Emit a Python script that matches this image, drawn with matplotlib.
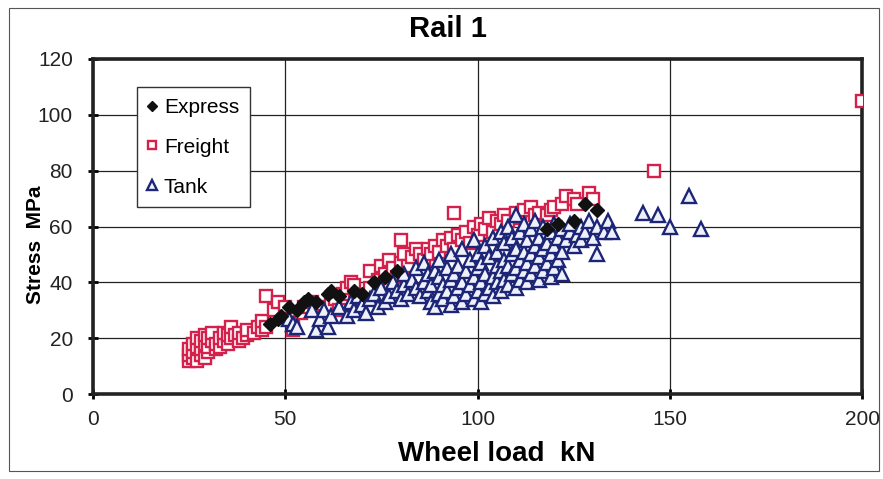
import numpy as np
import matplotlib.pyplot as plt
from matplotlib.patches import Rectangle

plt.rcParams['font.family'] = ['Liberation Sans', 'DejaVu Sans']

# wheel load (kN) / stress (MPa) per vehicle type
express_x = [46, 48, 49, 51, 53, 55, 56, 58, 61, 62, 64, 68, 70, 73, 76, 79, 118, 121, 125, 128, 131]
express_y = [25, 27, 28, 31, 30, 33, 34, 33, 36, 37, 35, 37, 36, 40, 42, 44, 59, 61, 62, 68, 66]

freight_x = [25, 25, 25, 26, 26, 26, 27, 27, 27, 28, 28, 28, 29, 29, 29, 30, 30, 30, 31, 31,
             32, 32, 33, 33, 34, 34, 35, 35, 36, 36, 37, 38, 38, 39, 40, 40, 42, 43, 44, 44,
             45, 45, 47, 48, 50, 52, 52, 54, 55, 57, 59, 60, 62, 63, 64, 65, 66, 67, 68, 70,
             72, 72, 74, 75, 76, 77, 78, 79, 80, 80, 81, 82, 83, 84, 85, 86, 87, 88, 89, 90,
             91, 92, 93, 94, 94, 95, 96, 97, 98, 99, 100, 101, 102, 103, 104, 105, 106, 107, 108, 110,
             111, 112, 114, 115, 116, 118, 119, 120, 122, 123, 125, 126, 129, 130, 146, 200]
freight_y = [12, 14, 16, 13, 15, 18, 12, 17, 20, 14, 16, 19, 13, 18, 21, 15, 17, 20, 19, 22,
             16, 18, 17, 20, 19, 22, 18, 21, 20, 24, 21, 19, 22, 20, 21, 23, 22, 24, 23, 26,
             24, 35, 30, 33, 31, 23, 27, 29, 31, 33, 31, 28, 32, 34, 30, 36, 38, 40, 39, 34,
             38, 44, 41, 46, 43, 48, 45, 42, 55, 47, 50, 46, 49, 52, 50, 48, 52, 50, 53, 51,
             55, 53, 56, 65, 52, 57, 55, 58, 54, 60, 57, 61, 59, 63, 58, 62, 61, 64, 62, 65,
             63, 66, 67, 64, 65, 64, 66, 67, 68, 71, 70, 68, 72, 70, 80, 105]

tank_x = [51, 52, 53, 57, 58, 59, 60, 61, 62,
          64, 66, 67, 68, 69, 70, 71, 72, 73, 74, 75, 76, 77, 78, 79, 80,
          81, 81, 82, 83, 84, 84, 85, 86, 86, 87, 87, 88, 88, 89, 89, 90, 90, 90,
          91, 91, 92, 92, 93, 93, 93, 94, 94, 95, 95, 96, 96, 96, 97, 97, 98, 98,
          99, 99, 99, 100, 100, 100,
          101, 101, 101, 102, 102, 102, 103, 103, 104, 104, 104, 105, 105, 105,
          106, 106, 106, 107, 107, 107, 108, 108, 108, 109, 109, 109, 110, 110, 110, 110,
          111, 111, 111, 112, 112, 112, 113, 113, 113, 114, 114, 114, 115, 115, 115,
          116, 116, 116, 117, 117, 117, 118, 118, 119, 119, 119, 120, 120, 120,
          121, 121, 122, 122, 122,
          123, 124, 124, 125, 126, 127, 127, 128, 129, 130, 131, 131, 133, 134, 135,
          143, 147, 150, 155, 158]
tank_y = [27, 25, 24, 30, 23, 27, 30, 24, 28,
          31, 28, 33, 30, 35, 32, 29, 34, 36, 31, 38, 33, 35, 40, 37, 34,
          39, 43, 36, 41, 38, 45, 35, 40, 47, 37, 43, 33, 39, 44, 31, 36, 42, 48,
          34, 39, 45, 37, 32, 41, 50, 35, 43, 38, 46, 33, 40, 52, 36, 44, 39, 48,
          34, 42, 55, 37, 45, 50,
          33, 40, 47, 36, 43, 53, 38, 49, 35, 42, 56, 40, 46, 51,
          37, 44, 58, 41, 48, 54, 39, 46, 60, 43, 50, 56, 38, 45, 52, 64,
          41, 48, 58, 44, 51, 61, 40, 47, 55, 43, 50, 59, 46, 53, 62,
          41, 49, 56, 44, 52, 60, 47, 54, 42, 50, 58, 45, 53, 61,
          48, 56, 43, 51, 59,
          55, 58, 61, 53, 57, 60, 55, 58, 62, 56, 50, 60, 58, 62, 58,
          65, 64, 60, 71, 59]

red = '#d6204c'
navy = '#1d2676'

fig = plt.figure(figsize=(8.83, 4.79), dpi=100)
fig.patches.append(Rectangle((9 / 883, 1 - 471 / 479), 870 / 883, 463 / 479,
                             transform=fig.transFigure, fill=False,
                             edgecolor='#555555', linewidth=0.8))

ax = fig.add_axes([93 / 883, 1 - 394 / 479, 769 / 883, 335 / 479])

ax.plot(freight_x, freight_y, linestyle='none', marker='s', ms=9,
        mfc='white', mec=red, mew=1.7, label='Freight', zorder=3)
ax.plot(tank_x, tank_y, linestyle='none', marker='^', ms=10.5,
        mfc='#eef0fa', mec=navy, mew=1.7, label='Tank', zorder=3)
ax.plot(express_x, express_y, linestyle='none', marker='D', ms=7,
        mfc='#111111', mec='#111111', label='Express', zorder=4)

ax.set_xlim(0, 200)
ax.set_ylim(0, 120)
ax.set_xticks(np.arange(0, 201, 50))
ax.set_yticks(np.arange(0, 121, 20))
ax.grid(True, color='#222222', linewidth=0.9)
ax.set_axisbelow(True)
for s in ax.spines.values():
    s.set_linewidth(2.6)
    s.set_color('#222222')
ax.tick_params(direction='inout', length=7, width=2, labelsize=15, pad=8,
               labelcolor='#222222')
ax.tick_params(axis='y', pad=11)

ax.set_xlabel('Wheel load  kN', fontsize=20, fontweight='bold')
ax.xaxis.set_label_coords(0.525, -0.14)
ax.set_ylabel('Stress  MPa', fontsize=15, fontweight='bold')
ax.yaxis.set_label_coords(-0.063, 0.445)
fig.text(448 / 883, 1 - 29 / 479, 'Rail 1', fontsize=21, fontweight='bold',
         ha='center', va='center')

# legend order: Express, Freight, Tank
h, l = ax.get_legend_handles_labels()
order = [2, 0, 1]
leg = ax.legend([h[i] for i in order], [l[i] for i in order],
                loc='upper left', bbox_to_anchor=(0.057, 0.915), fontsize=15,
                frameon=True, fancybox=False, edgecolor='#333333', framealpha=1,
                handlelength=0.5, handletextpad=0.3, labelspacing=1.0,
                borderpad=0.5, markerscale=0.7, borderaxespad=0)
leg.get_frame().set_linewidth(1.0)

fig.savefig('out.png', dpi=100)
